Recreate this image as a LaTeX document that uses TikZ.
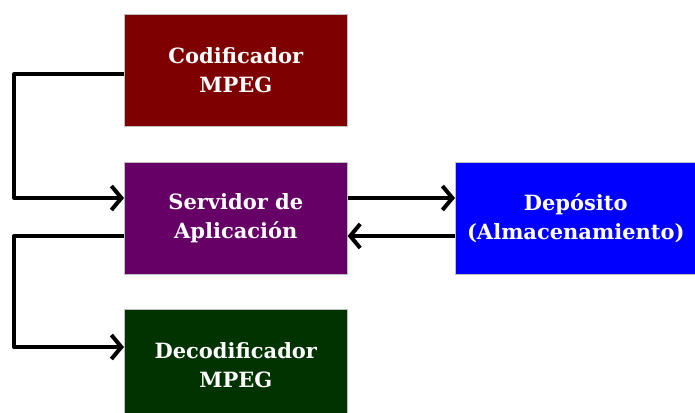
\documentclass[tikz,border=0pt]{standalone}
\usepackage{fontspec}
\setmainfont{DejaVu Serif}
\usetikzlibrary{arrows.meta}
\definecolor{cred}{HTML}{7F0000}
\definecolor{cpur}{HTML}{660066}
\definecolor{cblue}{HTML}{0000FF}
\definecolor{cgreen}{HTML}{003300}
\tikzset{
  blk/.style={draw=black!25, line width=0.6pt, minimum width=223pt, minimum height=112pt,
    inner sep=0pt, text=white, font=\bfseries\fontsize{21}{29}\selectfont, align=center},
  conn/.style={line width=4pt, -{Straight Barb[length=10pt,width=24pt,line width=4pt]}}
}
\begin{document}
\begin{tikzpicture}[x=1pt,y=-1pt]
\useasboundingbox (0,0) rectangle (695,412);
\node[blk, fill=cred, anchor=north west] (cod) at (124,14) {Codificador\\MPEG};
\node[blk, fill=cpur, anchor=north west] (srv) at (124,162) {Servidor de\\Aplicación};
\node[blk, fill=cblue, anchor=north west, minimum width=241pt] (dep) at (455,162) {Depósito\\(Almacenamiento)};
\node[blk, fill=cgreen, anchor=north west] (dec) at (124,309) {Decodificador\\MPEG};
\coordinate (c1) at (14,74);
\coordinate (c2) at (14,198);
\coordinate (c3) at (14,236);
\coordinate (c4) at (14,347);
\draw[conn, line join=round] (cod.west |- c1) -- (c1) -- (c2) -- (srv.west |- c2);
\draw[conn, line join=round] (srv.west |- c3) -- (c3) -- (c4) -- (dec.west |- c4);
\draw[conn] (srv.east |- c2) -- (dep.west |- c2);
\draw[conn] (dep.west |- c3) -- (srv.east |- c3);
\end{tikzpicture}
\end{document}
